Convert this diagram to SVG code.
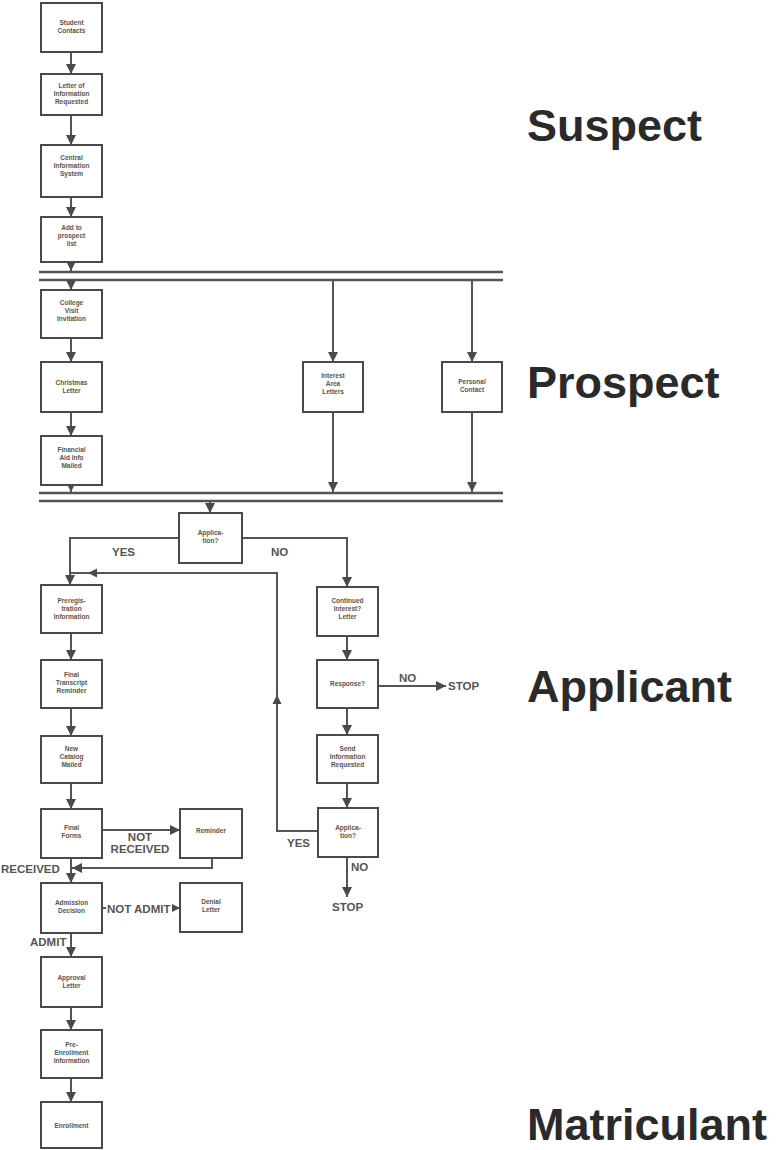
<svg xmlns="http://www.w3.org/2000/svg" width="778" height="1150" viewBox="0 0 778 1150">
<defs>
<marker id="ah" viewBox="0 0 10 10" refX="10" refY="5" markerWidth="5" markerHeight="5" markerUnits="strokeWidth" orient="auto"><path d="M0,0 L10,5 L0,10 Z" fill="#4a4a4a"/></marker>
<style>
.box{fill:#fff;stroke:#4a4a4a;stroke-width:2}
.bt{font-family:"Liberation Sans",Arial,sans-serif;font-size:6.5px;font-weight:bold;fill:#555;text-anchor:middle}
.c{fill:none;stroke:#555;stroke-width:2}
.ca{fill:none;stroke:#555;stroke-width:2;marker-end:url(#ah)}
.dl{stroke:#555;stroke-width:2.5}
.lb{font-family:"Liberation Sans",Arial,sans-serif;font-size:11.5px;font-weight:bold;fill:#555}
.big{font-family:"Liberation Sans",Arial,sans-serif;font-size:45px;font-weight:bold;fill:#2a2a2a}
.hd{fill:#4a4a4a}
</style>
</defs>
<rect width="778" height="1150" fill="#fff"/>

<g id="connectors">
<line class="ca" x1="71" y1="52" x2="71" y2="74"/>
<line class="ca" x1="71" y1="115" x2="71" y2="145"/>
<line class="ca" x1="71" y1="197" x2="71" y2="217"/>
<line class="ca" x1="71" y1="262" x2="71" y2="271"/>
<line class="dl" x1="39" y1="272" x2="503" y2="272"/>
<line class="dl" x1="39" y1="280" x2="503" y2="280"/>
<line class="ca" x1="71" y1="281" x2="71" y2="290"/>
<line class="ca" x1="333" y1="281" x2="333" y2="362"/>
<line class="ca" x1="472" y1="281" x2="472" y2="362"/>
<line class="ca" x1="71" y1="338" x2="71" y2="362"/>
<line class="ca" x1="71" y1="412" x2="71" y2="436"/>
<line class="ca" x1="71" y1="485" x2="71" y2="492"/>
<line class="ca" x1="333" y1="412" x2="333" y2="492"/>
<line class="ca" x1="472" y1="412" x2="472" y2="492"/>
<line class="dl" x1="39" y1="493" x2="503" y2="493"/>
<line class="dl" x1="39" y1="501" x2="503" y2="501"/>
<line class="ca" x1="210" y1="502" x2="210" y2="513"/>
<polyline class="ca" points="179,538 70,538 70,585"/>
<polyline class="ca" points="242,538 347,538 347,587"/>
<polyline class="c" points="318,831 277,831 277,573 70,573"/>
<path class="hd" d="M88,573 L97,568.5 L97,577.5 Z"/>
<path class="hd" d="M277,695 L272.5,704 L281.5,704 Z"/>
<line class="ca" x1="71" y1="633" x2="71" y2="660"/>
<line class="ca" x1="71" y1="708" x2="71" y2="736"/>
<line class="ca" x1="71" y1="783" x2="71" y2="809"/>
<line class="ca" x1="102" y1="830" x2="180" y2="830"/>
<polyline class="ca" points="212,858 212,868 72,868"/>
<line class="ca" x1="71" y1="858" x2="71" y2="883"/>
<line class="ca" x1="102" y1="908" x2="180" y2="908"/>
<line class="ca" x1="71" y1="933" x2="71" y2="957"/>
<line class="ca" x1="71" y1="1007" x2="71" y2="1030"/>
<line class="ca" x1="71" y1="1078" x2="71" y2="1102"/>
<line class="ca" x1="347" y1="636" x2="347" y2="660"/>
<line class="ca" x1="378" y1="686" x2="446" y2="686"/>
<line class="ca" x1="347" y1="708" x2="347" y2="735"/>
<line class="ca" x1="347" y1="783" x2="347" y2="808"/>
<line class="ca" x1="347" y1="857" x2="347" y2="897"/>
</g>

<g id="n1"><rect class="box" x="41" y="3" width="61" height="49"/><text class="bt" x="71.5" y="25">Student</text><text class="bt" x="71.5" y="33">Contacts</text></g>
<g id="n2"><rect class="box" x="41" y="74" width="61" height="41"/><text class="bt" x="71.5" y="88">Letter of</text><text class="bt" x="71.5" y="96">Information</text><text class="bt" x="71.5" y="104">Requested</text></g>
<g id="n3"><rect class="box" x="41" y="145" width="61" height="52"/><text class="bt" x="71.5" y="160">Central</text><text class="bt" x="71.5" y="168">Information</text><text class="bt" x="71.5" y="176">System</text></g>
<g id="n4"><rect class="box" x="41" y="217" width="61" height="45"/><text class="bt" x="71.5" y="230">Add to</text><text class="bt" x="71.5" y="238">prospect</text><text class="bt" x="71.5" y="246">list</text></g>
<g id="n5"><rect class="box" x="41" y="290" width="61" height="48"/><text class="bt" x="71.5" y="305">College</text><text class="bt" x="71.5" y="313">Visit</text><text class="bt" x="71.5" y="321">Invitation</text></g>
<g id="n6"><rect class="box" x="41" y="362" width="61" height="50"/><text class="bt" x="71.5" y="385">Christmas</text><text class="bt" x="71.5" y="393">Letter</text></g>
<g id="n7"><rect class="box" x="41" y="436" width="61" height="49"/><text class="bt" x="71.5" y="452">Financial</text><text class="bt" x="71.5" y="460">Aid Info</text><text class="bt" x="71.5" y="468">Mailed</text></g>
<g id="n8"><rect class="box" x="303" y="362" width="60" height="50"/><text class="bt" x="333" y="378">Interest</text><text class="bt" x="333" y="386">Area</text><text class="bt" x="333" y="394">Letters</text></g>
<g id="n9"><rect class="box" x="442" y="362" width="60" height="50"/><text class="bt" x="472" y="384">Personal</text><text class="bt" x="472" y="392">Contact</text></g>
<g id="n10"><rect class="box" x="179" y="513" width="63" height="50"/><text class="bt" x="210.5" y="535">Applica-</text><text class="bt" x="210.5" y="543">tion?</text></g>
<g id="n11"><rect class="box" x="41" y="585" width="61" height="48"/><text class="bt" x="71.5" y="603">Preregis-</text><text class="bt" x="71.5" y="611">tration</text><text class="bt" x="71.5" y="619">Information</text></g>
<g id="n12"><rect class="box" x="41" y="660" width="61" height="48"/><text class="bt" x="71.5" y="677">Final</text><text class="bt" x="71.5" y="685">Transcript</text><text class="bt" x="71.5" y="693">Reminder</text></g>
<g id="n13"><rect class="box" x="41" y="736" width="61" height="47"/><text class="bt" x="71.5" y="751">New</text><text class="bt" x="71.5" y="759">Catalog</text><text class="bt" x="71.5" y="767">Mailed</text></g>
<g id="n14"><rect class="box" x="41" y="809" width="61" height="49"/><text class="bt" x="71.5" y="830">Final</text><text class="bt" x="71.5" y="838">Forms</text></g>
<g id="n15"><rect class="box" x="180" y="809" width="62" height="49"/><text class="bt" x="211" y="833">Reminder</text></g>
<g id="n16"><rect class="box" x="41" y="883" width="61" height="50"/><text class="bt" x="71.5" y="905">Admission</text><text class="bt" x="71.5" y="913">Decision</text></g>
<g id="n17"><rect class="box" x="180" y="883" width="62" height="49"/><text class="bt" x="211" y="904">Denial</text><text class="bt" x="211" y="912">Letter</text></g>
<g id="n18"><rect class="box" x="41" y="957" width="61" height="50"/><text class="bt" x="71.5" y="980">Approval</text><text class="bt" x="71.5" y="988">Letter</text></g>
<g id="n19"><rect class="box" x="41" y="1030" width="61" height="48"/><text class="bt" x="71.5" y="1047">Pre-</text><text class="bt" x="71.5" y="1055">Enrollment</text><text class="bt" x="71.5" y="1063">Information</text></g>
<g id="n20"><rect class="box" x="41" y="1102" width="61" height="46"/><text class="bt" x="71.5" y="1128">Enrollment</text></g>
<g id="n21"><rect class="box" x="317" y="587" width="61" height="49"/><text class="bt" x="347.5" y="603">Continued</text><text class="bt" x="347.5" y="611">Interest?</text><text class="bt" x="347.5" y="619">Letter</text></g>
<g id="n22"><rect class="box" x="317" y="660" width="61" height="48"/><text class="bt" x="347.5" y="686">Response?</text></g>
<g id="n23"><rect class="box" x="317" y="735" width="61" height="48"/><text class="bt" x="347.5" y="751">Send</text><text class="bt" x="347.5" y="759">Information</text><text class="bt" x="347.5" y="767">Requested</text></g>
<g id="n24"><rect class="box" x="318" y="808" width="60" height="49"/><text class="bt" x="348" y="830">Applica-</text><text class="bt" x="348" y="838">tion?</text></g>

<g id="labels">
<text class="lb" x="112" y="556">YES</text>
<text class="lb" x="271" y="556">NO</text>
<text class="lb" x="399" y="682">NO</text>
<text class="lb" x="448" y="690">STOP</text>
<text class="lb" x="287" y="847">YES</text>
<text class="lb" x="351" y="871">NO</text>
<text class="lb" x="332" y="911">STOP</text>
<text class="lb" x="140" y="841" text-anchor="middle">NOT</text>
<text class="lb" x="140" y="853" text-anchor="middle">RECEIVED</text>
<text class="lb" x="1" y="873">RECEIVED</text>
<rect x="106" y="901" width="66" height="14" fill="#fff"/>
<text class="lb" x="107" y="913" font-size="11px">NOT ADMIT</text>
<text class="lb" x="30" y="946">ADMIT</text>
</g>

<g id="stages">
<text class="big" x="527" y="141">Suspect</text>
<text class="big" x="527" y="398">Prospect</text>
<text class="big" x="527" y="702">Applicant</text>
<text class="big" x="527" y="1140">Matriculant</text>
</g>
</svg>
